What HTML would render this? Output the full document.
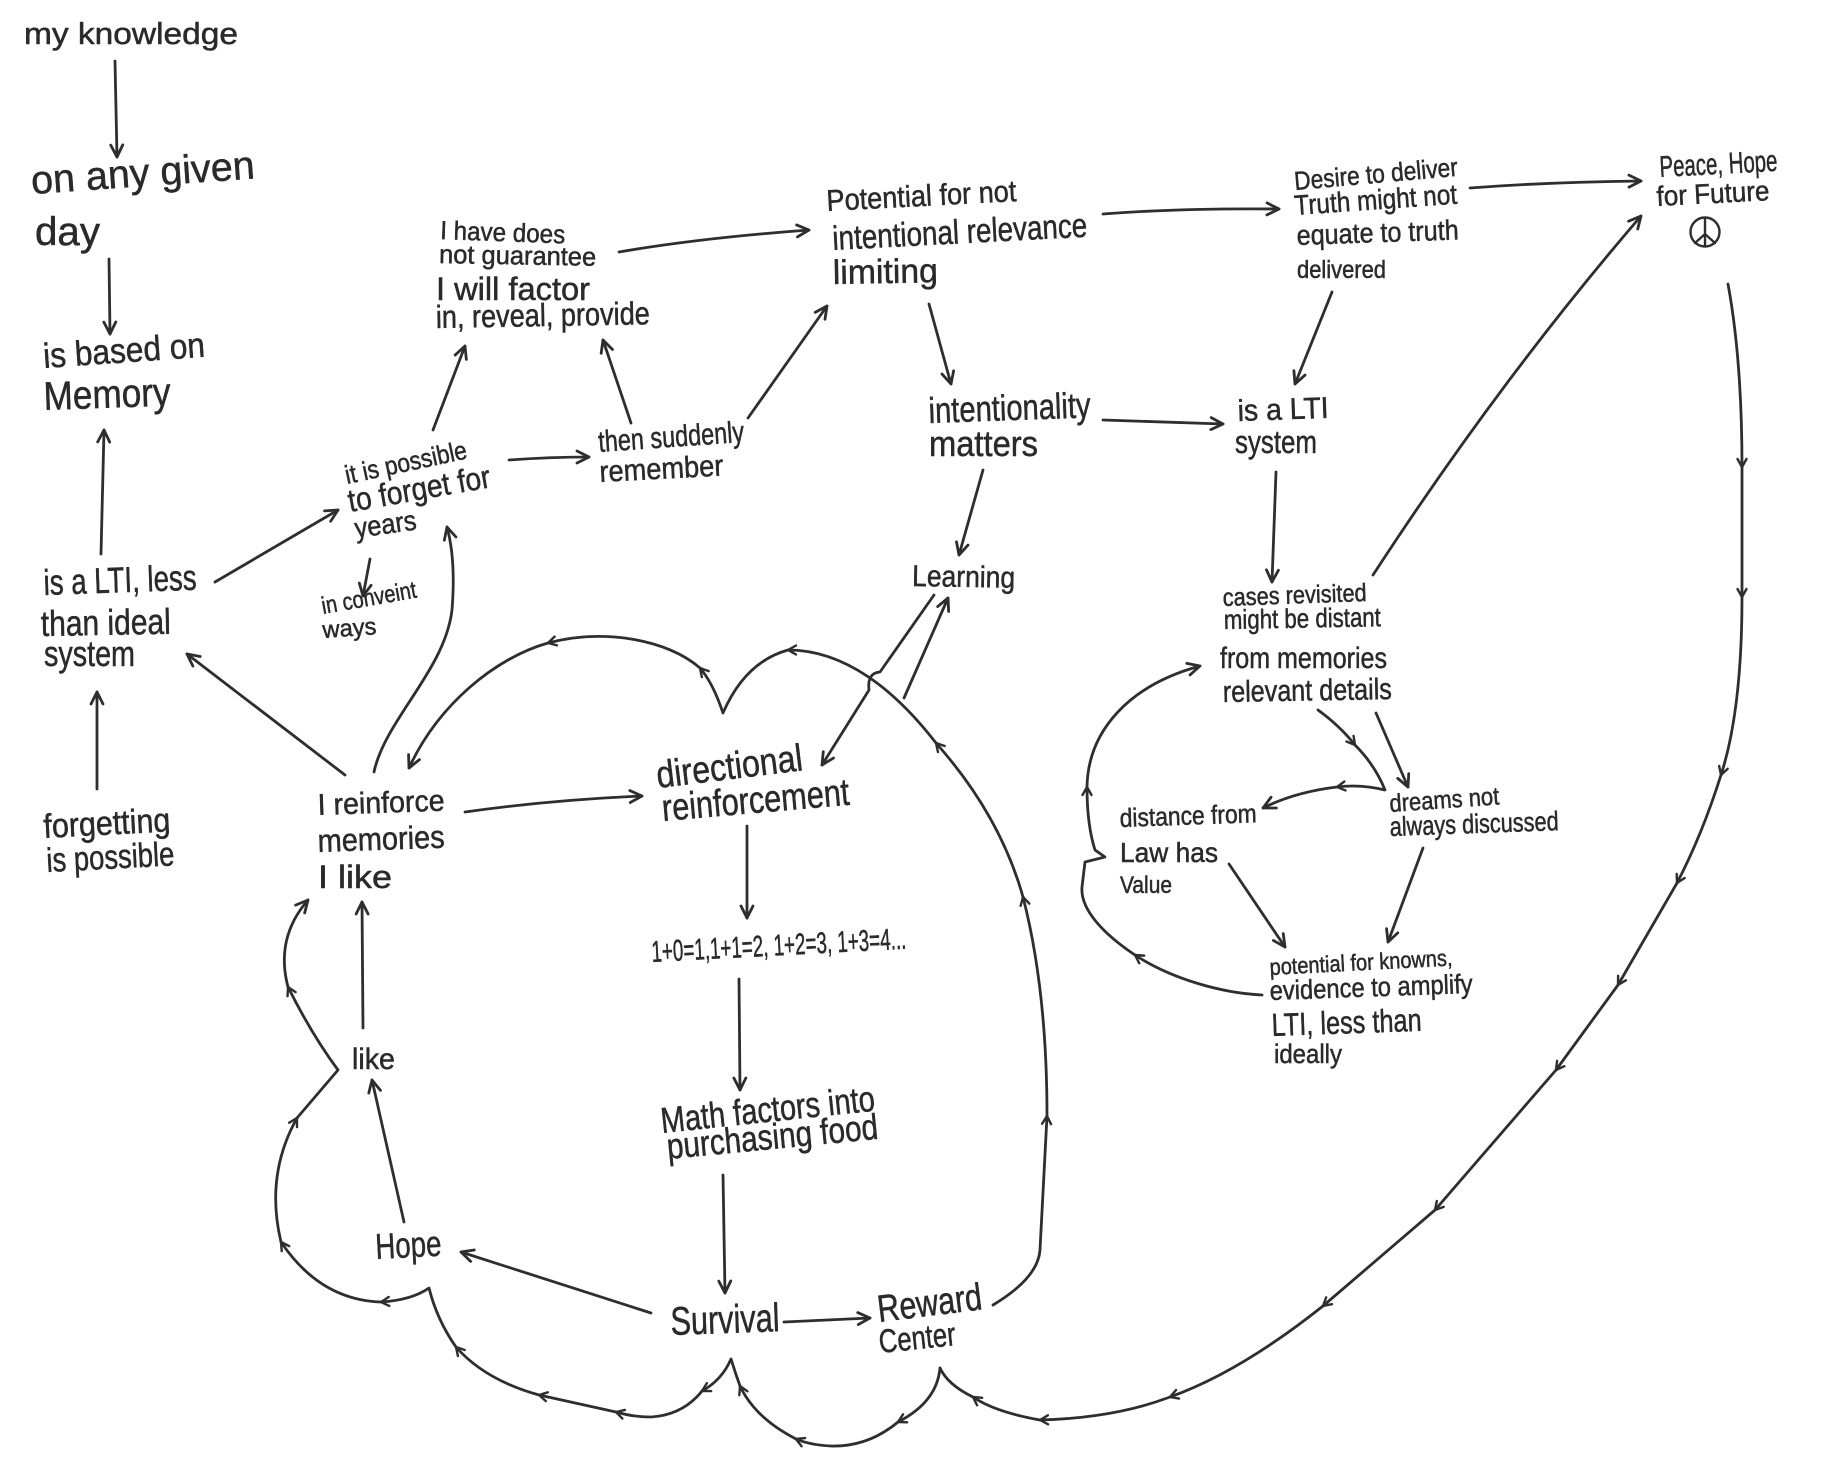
<!DOCTYPE html>
<html>
<head>
<meta charset="utf-8">
<style>
html,body{margin:0;padding:0;background:#fff;}
svg{display:block;}
.t{font-family:"Liberation Sans Narrow","Liberation Sans",sans-serif;fill:#2a2a2a;stroke:#2a2a2a;stroke-width:0.5;}
.l{fill:none;stroke:#2e2e2e;stroke-width:2.8;stroke-linecap:round;stroke-linejoin:round;}
.a{marker-end:url(#ah);}
.m{marker-end:url(#am);}
</style>
</head>
<body>
<svg width="1846" height="1466" viewBox="0 0 1846 1466" xmlns="http://www.w3.org/2000/svg">
<defs>
<marker id="ah" markerUnits="userSpaceOnUse" markerWidth="20" markerHeight="20" viewBox="-16 -10 20 20" refX="0" refY="0" orient="auto" overflow="visible">
<path d="M-12,-6 L0,0 L-12,6" fill="none" stroke="#2e2e2e" stroke-width="2.8" stroke-linecap="round" stroke-linejoin="round"/>
</marker>
<marker id="am" markerUnits="userSpaceOnUse" markerWidth="14" markerHeight="14" viewBox="-10 -7 14 14" refX="0" refY="0" orient="auto" overflow="visible">
<path d="M-8,-4.5 L0,0 L-8,4.5" fill="none" stroke="#2e2e2e" stroke-width="2.4" stroke-linecap="round" stroke-linejoin="round"/>
</marker>
</defs>
<rect width="1846" height="1466" fill="#fff"/>

<!-- straight arrows -->
<g class="l a">
<path d="M115,61 L117,157"/>
<path d="M109,259 L110,334"/>
<path d="M101,554 L104,430"/>
<path d="M97,789 L97,692"/>
<path d="M215,582 L338,510"/>
<path d="M370,559 L363,596"/>
<path d="M433,430 L465,346"/>
<path d="M509,460 Q550,457 589,457"/>
<path d="M631,423 L603,340"/>
<path d="M748,418 L827,306"/>
<path d="M619,252 Q700,238 809,230"/>
<path d="M345,775 L187,654"/>
<path d="M1103,214 Q1180,208 1279,209"/>
<path d="M1470,188 Q1550,182 1641,181"/>
<path d="M1332,292 L1295,384"/>
<path d="M929,304 L951,384"/>
<path d="M1103,420 L1223,424"/>
<path d="M983,470 L959,555"/>
<path d="M1276,472 L1272,582"/>
<path d="M1373,575 Q1500,380 1641,216"/>
<path d="M465,812 Q550,800 642,796"/>
<path d="M747,826 L747,918"/>
<path d="M739,979 L740,1090"/>
<path d="M723,1175 L725,1293"/>
<path d="M784,1322 L870,1318"/>
<path d="M651,1313 L461,1252"/>
<path d="M404,1222 L372,1080"/>
<path d="M363,1028 L362,902"/>
<path d="M1229,864 L1285,947"/>
<path d="M1423,848 L1388,942"/>
<path d="M1376,713 L1408,787"/>
<path d="M904,698 L948,598"/>
<path d="M934,595 L880,672 Q867,673 869,690 L822,765"/>
<path d="M374,772 C385,720 445,670 452,610 Q456,560 447,527"/>
</g>

<!-- cloud top path -->
<g class="l m">
<path d="M993,1305 Q1038,1278 1040,1250 L1047,1116"/>
<path d="M1047,1116 Q1047,990 1023,897"/>
<path d="M1023,897 Q1000,815 936,743"/>
<path d="M936,743 C895,690 845,650 788,650"/>
<path d="M788,650 Q745,662 723,713 Q713,683 700,668"/>
<path d="M700,668 C668,640 605,628 548,643"/>
</g>
<path class="l a" d="M548,643 C495,658 438,705 409,768"/>

<!-- cloud bottom path -->
<g class="l m">
<path d="M940,1368 Q937,1402 898,1422"/>
<path d="M898,1422 Q868,1447 831,1446 Q810,1445 796,1439"/>
<path d="M796,1439 Q755,1418 740,1386"/>
<path d="M740,1386 Q735,1372 731,1359 Q722,1380 702,1391"/>
<path d="M702,1391 Q683,1415 651,1417 Q633,1417 616,1412"/>
<path d="M616,1412 L539,1395"/>
<path d="M539,1395 Q485,1380 456,1347"/>
<path d="M456,1347 Q437,1320 429,1288 Q412,1300 381,1302"/>
<path d="M381,1302 Q320,1300 281,1242"/>
<path d="M281,1242 Q265,1175 297,1118"/>
<path d="M297,1118 L338,1070 Q312,1035 288,987"/>
</g>
<path class="l a" d="M288,987 Q275,938 308,900"/>

<!-- outer loop -->
<g class="l m">
<path d="M1728,284 Q1742,360 1742,467"/>
<path d="M1742,467 L1742,597"/>
<path d="M1742,597 Q1742,710 1721,775"/>
<path d="M1721,775 Q1702,835 1677,883"/>
<path d="M1677,883 L1618,985"/>
<path d="M1618,985 L1556,1070"/>
<path d="M1556,1070 L1435,1210"/>
<path d="M1435,1210 L1323,1306"/>
<path d="M1323,1306 Q1240,1372 1170,1397"/>
<path d="M1170,1397 Q1115,1418 1040,1420"/>
<path d="M1040,1420 Q995,1412 973,1397"/>
</g>
<path class="l" d="M973,1397 Q948,1385 940,1368"/>

<!-- right loop -->
<g class="l m">
<path d="M1262,995 C1220,993 1170,978 1135,955"/>
<path d="M1135,955 C1105,935 1080,910 1082,887 L1085,862 L1105,857 L1095,850 Q1087,825 1087,787"/>
<path d="M1318,710 Q1340,726 1355,745"/>
<path d="M1355,745 Q1375,765 1385,790 Q1360,784 1337,787"/>
</g>
<path class="l a" d="M1087,787 C1088,730 1130,685 1200,666"/>
<path class="l a" d="M1337,787 Q1295,792 1263,808"/>

<!-- peace symbol -->
<g class="l" style="stroke-width:2.4">
<circle cx="1705" cy="232" r="14.5"/>
<path d="M1705,218 L1705,246 M1705,234 L1695,243 M1705,234 L1715,243"/>
</g>

<!-- texts -->
<g class="t">
<text x="24" y="44" font-size="31" textLength="214" lengthAdjust="spacingAndGlyphs">my knowledge</text>
<text x="32" y="194" font-size="40" textLength="224" lengthAdjust="spacingAndGlyphs" transform="rotate(-4 32 194)">on any given</text>
<text x="35" y="245" font-size="40" textLength="65" lengthAdjust="spacingAndGlyphs">day</text>
<text x="44" y="368" font-size="35" textLength="162" lengthAdjust="spacingAndGlyphs" transform="rotate(-4 44 368)">is based on</text>
<text x="44" y="410" font-size="40" textLength="127" lengthAdjust="spacingAndGlyphs" transform="rotate(-2 44 410)">Memory</text>
<text x="44" y="595" font-size="36" textLength="153" lengthAdjust="spacingAndGlyphs" transform="rotate(-2 44 595)">is a LTI, less</text>
<text x="41" y="636" font-size="36" textLength="130" lengthAdjust="spacingAndGlyphs" transform="rotate(-1 41 636)">than ideal</text>
<text x="44" y="666" font-size="36" textLength="91" lengthAdjust="spacingAndGlyphs">system</text>
<text x="44" y="838" font-size="34" textLength="127" lengthAdjust="spacingAndGlyphs" transform="rotate(-3 44 838)">forgetting</text>
<text x="47" y="872" font-size="34" textLength="128" lengthAdjust="spacingAndGlyphs" transform="rotate(-3 47 872)">is possible</text>

<text x="347" y="484" font-size="26" textLength="124" lengthAdjust="spacingAndGlyphs" transform="rotate(-12 347 484)">it is possible</text>
<text x="350" y="512" font-size="32" textLength="144" lengthAdjust="spacingAndGlyphs" transform="rotate(-10 350 512)">to forget for</text>
<text x="356" y="538" font-size="28" textLength="62" lengthAdjust="spacingAndGlyphs" transform="rotate(-8 356 538)">years</text>
<text x="323" y="614" font-size="24" textLength="96" lengthAdjust="spacingAndGlyphs" transform="rotate(-10 323 614)">in conveint</text>
<text x="323" y="638" font-size="24" textLength="54" lengthAdjust="spacingAndGlyphs" transform="rotate(-4 323 638)">ways</text>
<text x="599" y="452" font-size="30" textLength="146" lengthAdjust="spacingAndGlyphs" transform="rotate(-4 599 452)">then suddenly</text>
<text x="600" y="482" font-size="30" textLength="124" lengthAdjust="spacingAndGlyphs" transform="rotate(-3 600 482)">remember</text>

<text x="440" y="239" font-size="26" textLength="125" lengthAdjust="spacingAndGlyphs" transform="rotate(2 440 239)">I have does</text>
<text x="439" y="263" font-size="26" textLength="157" lengthAdjust="spacingAndGlyphs" transform="rotate(1 439 263)">not guarantee</text>
<text x="436" y="300" font-size="32" textLength="154" lengthAdjust="spacingAndGlyphs">I will factor</text>
<text x="436" y="328" font-size="32" textLength="214" lengthAdjust="spacingAndGlyphs" transform="rotate(-1 436 328)">in, reveal, provide</text>

<text x="827" y="211" font-size="30" textLength="190" lengthAdjust="spacingAndGlyphs" transform="rotate(-3 827 211)">Potential for not</text>
<text x="833" y="250" font-size="34" textLength="255" lengthAdjust="spacingAndGlyphs" transform="rotate(-3 833 250)">intentional relevance</text>
<text x="833" y="284" font-size="34" textLength="105" lengthAdjust="spacingAndGlyphs" transform="rotate(-1 833 284)">limiting</text>

<text x="929" y="423" font-size="36" textLength="162" lengthAdjust="spacingAndGlyphs" transform="rotate(-2 929 423)">intentionality</text>
<text x="929" y="456" font-size="36" textLength="109" lengthAdjust="spacingAndGlyphs">matters</text>
<text x="912" y="586" font-size="30" textLength="103" lengthAdjust="spacingAndGlyphs" transform="rotate(1 912 586)">Learning</text>

<text x="1295" y="190" font-size="26" textLength="164" lengthAdjust="spacingAndGlyphs" transform="rotate(-5 1295 190)">Desire to deliver</text>
<text x="1295" y="215" font-size="28" textLength="163" lengthAdjust="spacingAndGlyphs" transform="rotate(-4 1295 215)">Truth might not</text>
<text x="1297" y="245" font-size="28" textLength="162" lengthAdjust="spacingAndGlyphs" transform="rotate(-2 1297 245)">equate to truth</text>
<text x="1297" y="278" font-size="25" textLength="89" lengthAdjust="spacingAndGlyphs">delivered</text>

<text x="1660" y="177" font-size="30" textLength="118" lengthAdjust="spacingAndGlyphs" transform="rotate(-3 1660 177)">Peace, Hope</text>
<text x="1657" y="206" font-size="28" textLength="113" lengthAdjust="spacingAndGlyphs" transform="rotate(-3 1657 206)">for Future</text>

<text x="1238" y="421" font-size="30" textLength="91" lengthAdjust="spacingAndGlyphs" transform="rotate(-2 1238 421)">is a LTI</text>
<text x="1235" y="453" font-size="32" textLength="82" lengthAdjust="spacingAndGlyphs">system</text>

<text x="1223" y="606" font-size="25" textLength="144" lengthAdjust="spacingAndGlyphs" transform="rotate(-2 1223 606)">cases revisited</text>
<text x="1224" y="629" font-size="27" textLength="157" lengthAdjust="spacingAndGlyphs" transform="rotate(-1 1224 629)">might be distant</text>
<text x="1220" y="668" font-size="30" textLength="167" lengthAdjust="spacingAndGlyphs">from memories</text>
<text x="1223" y="702" font-size="30" textLength="169" lengthAdjust="spacingAndGlyphs" transform="rotate(-1 1223 702)">relevant details</text>

<text x="1120" y="827" font-size="26" textLength="137" lengthAdjust="spacingAndGlyphs" transform="rotate(-2 1120 827)">distance from</text>
<text x="1120" y="862" font-size="28" textLength="98" lengthAdjust="spacingAndGlyphs">Law has</text>
<text x="1120" y="893" font-size="24" textLength="52" lengthAdjust="spacingAndGlyphs">Value</text>
<text x="1390" y="812" font-size="25" textLength="110" lengthAdjust="spacingAndGlyphs" transform="rotate(-4 1390 812)">dreams not</text>
<text x="1390" y="836" font-size="27" textLength="169" lengthAdjust="spacingAndGlyphs" transform="rotate(-2 1390 836)">always discussed</text>

<text x="1270" y="975" font-size="23" textLength="183" lengthAdjust="spacingAndGlyphs" transform="rotate(-3 1270 975)">potential for knowns,</text>
<text x="1270" y="1000" font-size="27" textLength="203" lengthAdjust="spacingAndGlyphs" transform="rotate(-2 1270 1000)">evidence to amplify</text>
<text x="1272" y="1036" font-size="32" textLength="150" lengthAdjust="spacingAndGlyphs" transform="rotate(-2 1272 1036)">LTI, less than</text>
<text x="1274" y="1063" font-size="27" textLength="68" lengthAdjust="spacingAndGlyphs">ideally</text>

<text x="318" y="815" font-size="30" textLength="127" lengthAdjust="spacingAndGlyphs" transform="rotate(-2 318 815)">I reinforce</text>
<text x="318" y="852" font-size="32" textLength="127" lengthAdjust="spacingAndGlyphs" transform="rotate(-2 318 852)">memories</text>
<text x="318" y="888" font-size="32" textLength="74" lengthAdjust="spacingAndGlyphs">I like</text>

<text x="658" y="788" font-size="38" textLength="147" lengthAdjust="spacingAndGlyphs" transform="rotate(-7 658 788)">directional</text>
<text x="663" y="821" font-size="38" textLength="188" lengthAdjust="spacingAndGlyphs" transform="rotate(-5 663 821)">reinforcement</text>
<text x="652" y="962" font-size="30" textLength="255" lengthAdjust="spacingAndGlyphs" transform="rotate(-3 652 962)">1+0=1,1+1=2, 1+2=3, 1+3=4...</text>
<text x="662" y="1133" font-size="36" textLength="215" lengthAdjust="spacingAndGlyphs" transform="rotate(-6 662 1133)">Math factors into</text>
<text x="668" y="1159" font-size="36" textLength="212" lengthAdjust="spacingAndGlyphs" transform="rotate(-5.5 668 1159)">purchasing food</text>

<text x="671" y="1335" font-size="40" textLength="109" lengthAdjust="spacingAndGlyphs" transform="rotate(-2 671 1335)">Survival</text>
<text x="879" y="1322" font-size="38" textLength="105" lengthAdjust="spacingAndGlyphs" transform="rotate(-7 879 1322)">Reward</text>
<text x="880" y="1353" font-size="33" textLength="77" lengthAdjust="spacingAndGlyphs" transform="rotate(-6 880 1353)">Center</text>
<text x="376" y="1259" font-size="36" textLength="66" lengthAdjust="spacingAndGlyphs" transform="rotate(-3 376 1259)">Hope</text>
<text x="352" y="1069" font-size="30" textLength="43" lengthAdjust="spacingAndGlyphs">like</text>
</g>
</svg>
</body>
</html>
